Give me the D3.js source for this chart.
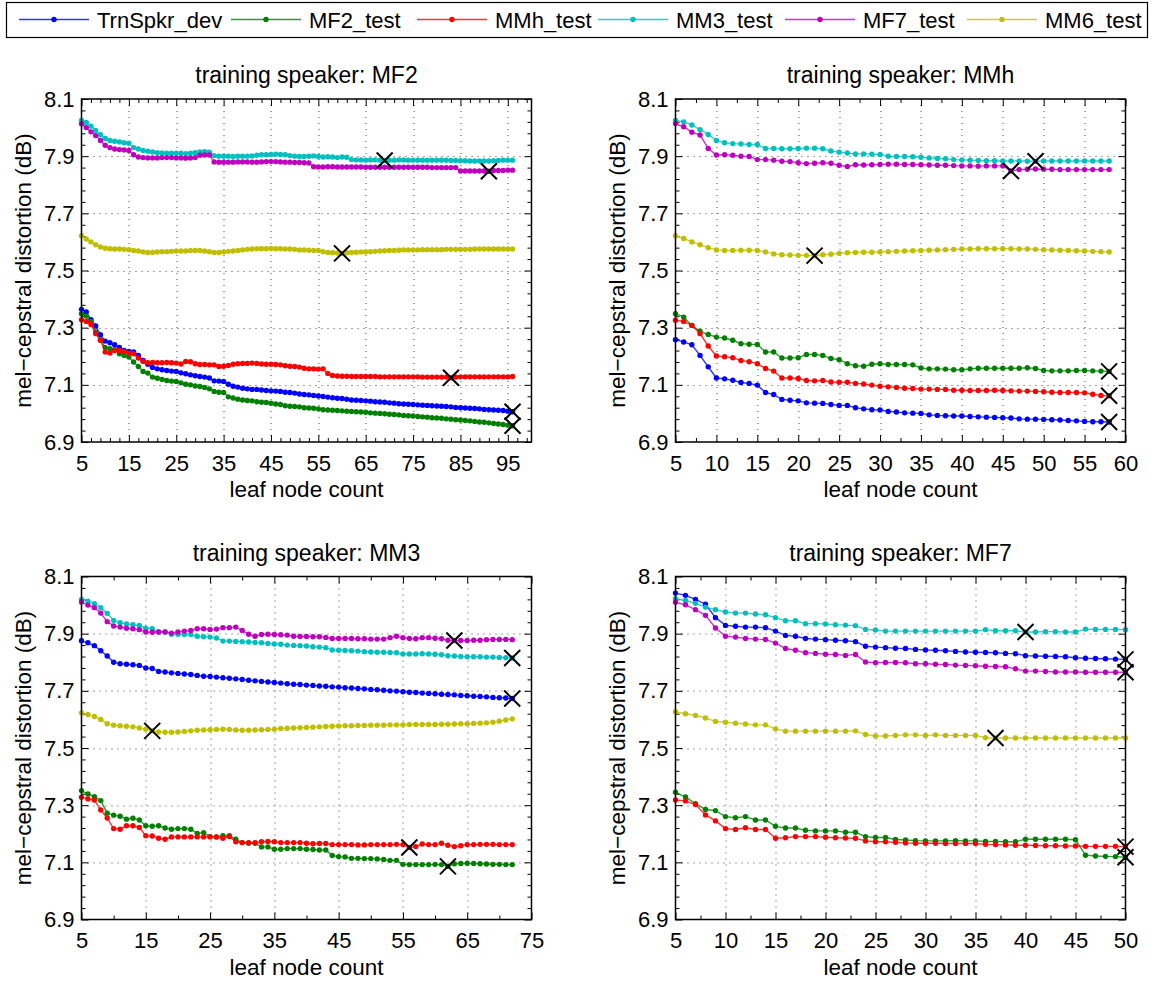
<!DOCTYPE html>
<html>
<head>
<meta charset="utf-8">
<script src="https://cdn.jsdelivr.net/npm/d3@7"></script>
<style>
  body { margin: 0; background: #fff; }
  svg text { font-family: "Liberation Sans", Arial, Helvetica, sans-serif; fill: #000; }
</style>
</head>
<body>
<div id="viz"></div>
<script>
const width = 1151;
const height = 985;

const seriesNames = ['TrnSpkr_dev', 'MF2_test', 'MMh_test', 'MM3_test', 'MF7_test', 'MM6_test'];
const seriesColors = ['#0000ff', '#008000', '#ff0000', '#00bfbf', '#bf00bf', '#bfbf00'];
const yTickValues = [6.9, 7.1, 7.3, 7.5, 7.7, 7.9, 8.1];
const firstLeafCount = 5;

// ---- training speaker MF2 (leaf node count 5..96)
const mf2XTicks = [5, 15, 25, 35, 45, 55, 65, 75, 85, 95];
const mf2Dev = [7.364, 7.355, 7.328, 7.306, 7.275, 7.253, 7.247, 7.240, 7.231, 7.220,
  7.217, 7.215, 7.203, 7.185, 7.172, 7.161, 7.156, 7.153, 7.150, 7.148,
  7.147, 7.142, 7.139, 7.135, 7.132, 7.129, 7.127, 7.124, 7.114, 7.113,
  7.112, 7.102, 7.095, 7.092, 7.088, 7.086, 7.084, 7.084, 7.082, 7.080,
  7.079, 7.078, 7.077, 7.074, 7.073, 7.071, 7.068, 7.066, 7.065, 7.063,
  7.061, 7.059, 7.057, 7.055, 7.053, 7.052, 7.050, 7.047, 7.046, 7.045,
  7.044, 7.043, 7.041, 7.040, 7.039, 7.037, 7.036, 7.034, 7.033, 7.032,
  7.031, 7.030, 7.029, 7.028, 7.027, 7.026, 7.025, 7.024, 7.023, 7.021,
  7.020, 7.019, 7.018, 7.017, 7.016, 7.014, 7.013, 7.012, 7.011, 7.010,
  7.008, 7.006];
const mf2MF2 = [7.349, 7.341, 7.322, 7.285, 7.256, 7.231, 7.226, 7.223, 7.209, 7.203,
  7.197, 7.180, 7.164, 7.147, 7.141, 7.127, 7.123, 7.119, 7.115, 7.113,
  7.112, 7.107, 7.102, 7.100, 7.096, 7.094, 7.091, 7.086, 7.077, 7.074,
  7.073, 7.058, 7.054, 7.050, 7.047, 7.045, 7.044, 7.041, 7.039, 7.038,
  7.036, 7.033, 7.031, 7.027, 7.025, 7.024, 7.023, 7.020, 7.019, 7.018,
  7.016, 7.013, 7.012, 7.011, 7.010, 7.009, 7.008, 7.007, 7.006, 7.005,
  7.004, 7.002, 7.001, 7.000, 6.999, 6.997, 6.996, 6.995, 6.993, 6.992,
  6.991, 6.989, 6.988, 6.987, 6.985, 6.984, 6.983, 6.981, 6.980, 6.978,
  6.977, 6.975, 6.974, 6.972, 6.970, 6.969, 6.967, 6.965, 6.963, 6.961,
  6.959, 6.957];
const mf2MMh = [7.328, 7.322, 7.311, 7.279, 7.256, 7.215, 7.211, 7.220, 7.220, 7.217,
  7.211, 7.209, 7.194, 7.182, 7.177, 7.178, 7.177, 7.177, 7.178, 7.177,
  7.176, 7.173, 7.182, 7.181, 7.174, 7.171, 7.171, 7.170, 7.170, 7.164,
  7.165, 7.168, 7.172, 7.174, 7.175, 7.175, 7.176, 7.175, 7.173, 7.172,
  7.172, 7.171, 7.170, 7.167, 7.165, 7.164, 7.162, 7.158, 7.156, 7.156,
  7.155, 7.156, 7.140, 7.133, 7.131, 7.130, 7.130, 7.129, 7.129, 7.129,
  7.129, 7.129, 7.129, 7.128, 7.128, 7.128, 7.128, 7.128, 7.128, 7.128,
  7.128, 7.128, 7.127, 7.127, 7.127, 7.127, 7.127, 7.127, 7.125, 7.127,
  7.128, 7.128, 7.128, 7.128, 7.128, 7.128, 7.128, 7.128, 7.128, 7.128,
  7.128, 7.129];
const mf2MM3 = [8.025, 8.018, 8.005, 7.990, 7.975, 7.962, 7.955, 7.952, 7.950, 7.947,
  7.945, 7.930, 7.925, 7.920, 7.917, 7.915, 7.912, 7.911, 7.910, 7.910,
  7.910, 7.910, 7.909, 7.910, 7.912, 7.915, 7.916, 7.914, 7.902, 7.900,
  7.900, 7.900, 7.899, 7.900, 7.900, 7.900, 7.901, 7.903, 7.905, 7.905,
  7.906, 7.907, 7.906, 7.905, 7.902, 7.900, 7.899, 7.899, 7.900, 7.901,
  7.899, 7.897, 7.898, 7.897, 7.895, 7.897, 7.896, 7.888, 7.887, 7.887,
  7.886, 7.887, 7.887, 7.886, 7.885, 7.886, 7.886, 7.887, 7.887, 7.886,
  7.886, 7.886, 7.886, 7.886, 7.886, 7.886, 7.886, 7.886, 7.885, 7.885,
  7.884, 7.884, 7.883, 7.883, 7.883, 7.883, 7.883, 7.884, 7.885, 7.886,
  7.886, 7.886];
const mf2MF7 = [8.013, 8.000, 7.985, 7.972, 7.955, 7.938, 7.930, 7.925, 7.923, 7.922,
  7.920, 7.905, 7.897, 7.895, 7.894, 7.894, 7.894, 7.895, 7.895, 7.895,
  7.894, 7.894, 7.893, 7.894, 7.895, 7.903, 7.904, 7.904, 7.880, 7.879,
  7.879, 7.879, 7.879, 7.880, 7.880, 7.880, 7.879, 7.879, 7.880, 7.881,
  7.881, 7.881, 7.880, 7.879, 7.879, 7.878, 7.878, 7.877, 7.876, 7.863,
  7.862, 7.862, 7.863, 7.863, 7.862, 7.862, 7.862, 7.862, 7.862, 7.862,
  7.861, 7.861, 7.861, 7.861, 7.861, 7.861, 7.861, 7.861, 7.861, 7.861,
  7.861, 7.861, 7.861, 7.861, 7.860, 7.860, 7.860, 7.860, 7.860, 7.860,
  7.848, 7.848, 7.848, 7.848, 7.848, 7.848, 7.847, 7.850, 7.850, 7.850,
  7.851, 7.851];
const mf2MM6 = [7.622, 7.610, 7.600, 7.590, 7.582, 7.578, 7.576, 7.575, 7.575, 7.574,
  7.573, 7.570, 7.568, 7.565, 7.563, 7.563, 7.565, 7.566, 7.566, 7.567,
  7.568, 7.568, 7.568, 7.570, 7.570, 7.570, 7.568, 7.566, 7.563, 7.563,
  7.565, 7.567, 7.568, 7.570, 7.572, 7.574, 7.575, 7.576, 7.576, 7.576,
  7.577, 7.576, 7.576, 7.575, 7.575, 7.574, 7.572, 7.572, 7.571, 7.570,
  7.570, 7.566, 7.563, 7.562, 7.561, 7.560, 7.562, 7.563, 7.564, 7.565,
  7.565, 7.566, 7.567, 7.568, 7.569, 7.570, 7.570, 7.571, 7.572, 7.572,
  7.572, 7.572, 7.573, 7.573, 7.573, 7.573, 7.573, 7.574, 7.574, 7.574,
  7.574, 7.574, 7.574, 7.575, 7.575, 7.575, 7.575, 7.575, 7.575, 7.575,
  7.575, 7.575];
const mf2Picks = [96, 96, 83, 69, 91, 60];

// ---- training speaker MMh (leaf node count 5..58)
const mmhXTicks = [5, 10, 15, 20, 25, 30, 35, 40, 45, 50, 55, 60];
const mmhDev = [7.258, 7.250, 7.240, 7.203, 7.163, 7.124, 7.121, 7.116, 7.108, 7.105,
  7.099, 7.073, 7.066, 7.049, 7.046, 7.044, 7.037, 7.036, 7.035, 7.031,
  7.028, 7.028, 7.020, 7.016, 7.013, 7.012, 7.007, 7.005, 7.002, 7.001,
  7.000, 6.995, 6.993, 6.992, 6.991, 6.991, 6.989, 6.988, 6.987, 6.986,
  6.985, 6.984, 6.981, 6.980, 6.980, 6.979, 6.978, 6.977, 6.975, 6.974,
  6.972, 6.971, 6.971, 6.970];
const mmhMF2 = [7.349, 7.337, 7.308, 7.288, 7.276, 7.267, 7.264, 7.256, 7.244, 7.242,
  7.241, 7.215, 7.215, 7.194, 7.194, 7.195, 7.206, 7.206, 7.203, 7.192,
  7.188, 7.174, 7.167, 7.165, 7.172, 7.174, 7.171, 7.171, 7.171, 7.170,
  7.159, 7.156, 7.156, 7.155, 7.153, 7.153, 7.156, 7.158, 7.158, 7.158,
  7.158, 7.158, 7.158, 7.160, 7.157, 7.150, 7.149, 7.149, 7.149, 7.150,
  7.150, 7.149, 7.148, 7.147];
const mmhMMh = [7.326, 7.322, 7.308, 7.279, 7.236, 7.201, 7.198, 7.195, 7.185, 7.181,
  7.174, 7.157, 7.148, 7.124, 7.124, 7.122, 7.115, 7.114, 7.115, 7.110,
  7.109, 7.109, 7.105, 7.103, 7.099, 7.095, 7.093, 7.091, 7.088, 7.087,
  7.085, 7.085, 7.084, 7.084, 7.081, 7.081, 7.080, 7.080, 7.080, 7.081,
  7.080, 7.079, 7.078, 7.078, 7.077, 7.076, 7.074, 7.073, 7.073, 7.073,
  7.072, 7.067, 7.063, 7.062];
const mmhMM3 = [8.025, 8.020, 8.009, 7.993, 7.976, 7.955, 7.947, 7.944, 7.943, 7.941,
  7.941, 7.927, 7.927, 7.926, 7.926, 7.927, 7.928, 7.928, 7.926, 7.918,
  7.914, 7.911, 7.908, 7.908, 7.907, 7.906, 7.900, 7.899, 7.899, 7.898,
  7.896, 7.894, 7.892, 7.891, 7.888, 7.887, 7.886, 7.885, 7.884, 7.884,
  7.883, 7.883, 7.883, 7.882, 7.882, 7.883, 7.883, 7.883, 7.883, 7.883,
  7.883, 7.883, 7.883, 7.883];
const mmhMF7 = [8.014, 8.003, 7.984, 7.974, 7.927, 7.904, 7.905, 7.903, 7.900, 7.899,
  7.888, 7.888, 7.886, 7.882, 7.881, 7.877, 7.874, 7.875, 7.877, 7.875,
  7.868, 7.864, 7.870, 7.869, 7.870, 7.871, 7.872, 7.872, 7.871, 7.871,
  7.870, 7.869, 7.868, 7.868, 7.867, 7.866, 7.866, 7.865, 7.866, 7.866,
  7.866, 7.848, 7.853, 7.854, 7.855, 7.854, 7.854, 7.853, 7.853, 7.853,
  7.853, 7.853, 7.853, 7.853];
const mmhMM6 = [7.622, 7.612, 7.600, 7.590, 7.580, 7.572, 7.570, 7.570, 7.571, 7.571,
  7.570, 7.565, 7.558, 7.555, 7.554, 7.553, 7.553, 7.552, 7.555, 7.557,
  7.560, 7.562, 7.563, 7.564, 7.564, 7.565, 7.566, 7.567, 7.568, 7.569,
  7.570, 7.571, 7.572, 7.573, 7.574, 7.575, 7.575, 7.576, 7.576, 7.576,
  7.576, 7.576, 7.575, 7.575, 7.574, 7.573, 7.572, 7.571, 7.570, 7.569,
  7.568, 7.567, 7.566, 7.565];
const mmhPicks = [58, 58, 58, 49, 46, 22];

// ---- training speaker MM3 (leaf node count 5..72)
const mm3XTicks = [5, 15, 25, 35, 45, 55, 65, 75];
const mm3Dev = [7.875, 7.868, 7.858, 7.840, 7.822, 7.800, 7.795, 7.793, 7.791, 7.789,
  7.780, 7.778, 7.768, 7.766, 7.763, 7.761, 7.759, 7.757, 7.754, 7.751,
  7.750, 7.748, 7.746, 7.744, 7.742, 7.740, 7.737, 7.735, 7.733, 7.731,
  7.729, 7.727, 7.725, 7.723, 7.722, 7.720, 7.719, 7.717, 7.716, 7.714,
  7.713, 7.711, 7.710, 7.708, 7.707, 7.705, 7.704, 7.702, 7.700, 7.699,
  7.697, 7.695, 7.694, 7.692, 7.691, 7.690, 7.688, 7.687, 7.686, 7.684,
  7.683, 7.681, 7.680, 7.679, 7.677, 7.676, 7.675, 7.673];
const mm3MF2 = [7.351, 7.339, 7.330, 7.316, 7.272, 7.265, 7.261, 7.251, 7.254, 7.248,
  7.228, 7.226, 7.228, 7.220, 7.216, 7.218, 7.218, 7.216, 7.201, 7.204,
  7.190, 7.189, 7.193, 7.193, 7.181, 7.169, 7.167, 7.167, 7.154, 7.154,
  7.146, 7.146, 7.148, 7.148, 7.148, 7.146, 7.145, 7.143, 7.143, 7.124,
  7.120, 7.119, 7.114, 7.114, 7.113, 7.113, 7.112, 7.110, 7.107, 7.107,
  7.093, 7.092, 7.092, 7.092, 7.092, 7.093, 7.092, 7.086, 7.095, 7.096,
  7.097, 7.096, 7.095, 7.094, 7.093, 7.093, 7.092, 7.092];
const mm3MMh = [7.328, 7.322, 7.318, 7.283, 7.255, 7.218, 7.216, 7.228, 7.228, 7.222,
  7.193, 7.192, 7.184, 7.181, 7.189, 7.189, 7.189, 7.189, 7.189, 7.189,
  7.189, 7.189, 7.184, 7.190, 7.172, 7.169, 7.169, 7.169, 7.172, 7.173,
  7.172, 7.169, 7.169, 7.169, 7.169, 7.167, 7.165, 7.166, 7.166, 7.162,
  7.162, 7.162, 7.162, 7.161, 7.161, 7.162, 7.162, 7.162, 7.162, 7.163,
  7.162, 7.152, 7.155, 7.164, 7.162, 7.162, 7.167, 7.160, 7.155, 7.158,
  7.162, 7.162, 7.163, 7.163, 7.163, 7.162, 7.162, 7.162];
const mm3MM3 = [8.020, 8.014, 8.005, 7.991, 7.971, 7.946, 7.938, 7.934, 7.931, 7.929,
  7.919, 7.917, 7.906, 7.906, 7.898, 7.898, 7.897, 7.897, 7.891, 7.889,
  7.888, 7.885, 7.874, 7.874, 7.873, 7.872, 7.871, 7.869, 7.868, 7.866,
  7.864, 7.863, 7.860, 7.859, 7.858, 7.857, 7.854, 7.853, 7.851, 7.843,
  7.842, 7.841, 7.840, 7.839, 7.837, 7.836, 7.835, 7.835, 7.834, 7.833,
  7.829, 7.829, 7.829, 7.830, 7.829, 7.828, 7.826, 7.823, 7.822, 7.820,
  7.819, 7.819, 7.819, 7.818, 7.818, 7.817, 7.816, 7.815];
const mm3MF7 = [8.011, 8.000, 7.991, 7.972, 7.942, 7.927, 7.923, 7.919, 7.917, 7.914,
  7.906, 7.905, 7.906, 7.906, 7.902, 7.906, 7.909, 7.911, 7.917, 7.917,
  7.915, 7.916, 7.921, 7.921, 7.923, 7.911, 7.898, 7.891, 7.897, 7.898,
  7.897, 7.896, 7.895, 7.891, 7.890, 7.890, 7.889, 7.889, 7.887, 7.883,
  7.883, 7.883, 7.883, 7.882, 7.882, 7.881, 7.881, 7.881, 7.886, 7.891,
  7.886, 7.883, 7.882, 7.886, 7.886, 7.884, 7.882, 7.877, 7.876, 7.876,
  7.876, 7.877, 7.877, 7.879, 7.880, 7.880, 7.880, 7.879];
const mm3MM6 = [7.623, 7.617, 7.610, 7.600, 7.585, 7.580, 7.578, 7.576, 7.574, 7.570,
  7.566, 7.560, 7.556, 7.555, 7.555, 7.556, 7.558, 7.560, 7.562, 7.563,
  7.564, 7.565, 7.566, 7.565, 7.563, 7.562, 7.562, 7.563, 7.564, 7.565,
  7.566, 7.568, 7.569, 7.570, 7.571, 7.572, 7.573, 7.574, 7.575, 7.576,
  7.577, 7.578, 7.578, 7.579, 7.579, 7.580, 7.580, 7.580, 7.581, 7.581,
  7.581, 7.582, 7.582, 7.582, 7.582, 7.582, 7.583, 7.583, 7.584, 7.585,
  7.585, 7.586, 7.587, 7.588, 7.590, 7.594, 7.598, 7.602];
const mm3Picks = [72, 62, 56, 72, 63, 16];

// ---- training speaker MF7 (leaf node count 5..50)
const mf7XTicks = [5, 10, 15, 20, 25, 30, 35, 40, 45, 50];
const mf7Dev = [8.042, 8.034, 8.020, 8.003, 7.956, 7.929, 7.926, 7.923, 7.923, 7.921,
  7.909, 7.894, 7.891, 7.883, 7.881, 7.879, 7.877, 7.875, 7.872, 7.856,
  7.853, 7.851, 7.849, 7.848, 7.845, 7.843, 7.842, 7.840, 7.838, 7.836,
  7.835, 7.834, 7.833, 7.831, 7.830, 7.823, 7.822, 7.821, 7.820, 7.819,
  7.816, 7.814, 7.813, 7.812, 7.811, 7.810];
const mf7MF2 = [7.345, 7.329, 7.305, 7.285, 7.281, 7.260, 7.256, 7.260, 7.248, 7.248,
  7.226, 7.220, 7.220, 7.212, 7.210, 7.210, 7.210, 7.205, 7.205, 7.190,
  7.187, 7.187, 7.180, 7.178, 7.176, 7.175, 7.175, 7.175, 7.176, 7.175,
  7.175, 7.173, 7.173, 7.172, 7.172, 7.181, 7.181, 7.181, 7.181, 7.181,
  7.179, 7.125, 7.122, 7.121, 7.120, 7.118];
const mf7MMh = [7.318, 7.315, 7.302, 7.266, 7.245, 7.218, 7.215, 7.221, 7.215, 7.215,
  7.184, 7.186, 7.190, 7.190, 7.190, 7.188, 7.186, 7.185, 7.184, 7.175,
  7.172, 7.172, 7.170, 7.168, 7.167, 7.167, 7.167, 7.166, 7.166, 7.166,
  7.166, 7.163, 7.162, 7.161, 7.160, 7.160, 7.159, 7.158, 7.158, 7.157,
  7.157, 7.156, 7.156, 7.156, 7.156, 7.155];
const mf7MM3 = [8.022, 8.016, 8.006, 7.993, 7.984, 7.976, 7.972, 7.972, 7.969, 7.966,
  7.956, 7.945, 7.945, 7.935, 7.935, 7.934, 7.931, 7.930, 7.928, 7.915,
  7.913, 7.909, 7.909, 7.909, 7.909, 7.909, 7.909, 7.909, 7.909, 7.909,
  7.909, 7.914, 7.910, 7.910, 7.910, 7.906, 7.906, 7.907, 7.907, 7.906,
  7.906, 7.916, 7.915, 7.915, 7.915, 7.914];
const mf7MF7 = [8.010, 8.001, 7.984, 7.964, 7.920, 7.891, 7.888, 7.883, 7.881, 7.880,
  7.867, 7.848, 7.842, 7.833, 7.831, 7.828, 7.827, 7.824, 7.827, 7.801,
  7.798, 7.799, 7.799, 7.798, 7.795, 7.795, 7.793, 7.792, 7.790, 7.789,
  7.788, 7.786, 7.785, 7.784, 7.777, 7.769, 7.769, 7.768, 7.766, 7.766,
  7.766, 7.765, 7.765, 7.765, 7.765, 7.765];
const mf7MM6 = [7.627, 7.620, 7.614, 7.605, 7.593, 7.590, 7.587, 7.584, 7.581, 7.581,
  7.567, 7.559, 7.559, 7.559, 7.559, 7.559, 7.559, 7.559, 7.560, 7.547,
  7.542, 7.542, 7.544, 7.546, 7.546, 7.544, 7.546, 7.544, 7.544, 7.544,
  7.544, 7.536, 7.535, 7.535, 7.535, 7.535, 7.535, 7.535, 7.535, 7.535,
  7.535, 7.535, 7.535, 7.535, 7.535, 7.535];
const mf7Picks = [50, 50, 50, 40, 50, 37];

const panels = [
  {title: 'training speaker: MF2', xDomain: [5, 100], xTicks: mf2XTicks, minorStep: 2,
   series: [mf2Dev, mf2MF2, mf2MMh, mf2MM3, mf2MF7, mf2MM6], picks: mf2Picks},
  {title: 'training speaker: MMh', xDomain: [5, 60], xTicks: mmhXTicks, minorStep: 2.5,
   series: [mmhDev, mmhMF2, mmhMMh, mmhMM3, mmhMF7, mmhMM6], picks: mmhPicks},
  {title: 'training speaker: MM3', xDomain: [5, 75], xTicks: mm3XTicks, minorStep: 5,
   series: [mm3Dev, mm3MF2, mm3MMh, mm3MM3, mm3MF7, mm3MM6], picks: mm3Picks},
  {title: 'training speaker: MF7', xDomain: [5, 50], xTicks: mf7XTicks, minorStep: 2.5,
   series: [mf7Dev, mf7MF2, mf7MMh, mf7MM3, mf7MF7, mf7MM6], picks: mf7Picks}
];

// Layout of the 2x2 grid (pixels)
const boxW = 450;
const boxH = 343;
const boxOrigins = [[81.5, 99], [675.5, 99], [81.5, 576.5], [675.5, 576.5]];
const tickFont = 22;
const labelFont = 22.5;
const titleFont = 23;

const svg = d3.select('#viz')
  .append('svg')
    .attr('width', width)
    .attr('height', height)
    .attr('viewBox', [0, 0, width, height]);

svg.append('rect').attr('width', width).attr('height', height).attr('fill', '#fff');

const yScale = d3.scaleLinear().domain([6.9, 8.1]).range([boxH, 0]);
const yMinor = d3.range(0, 31).filter(i => i % 5 !== 0).map(i => 6.9 + i * 0.04);

panels.forEach((p, pi) => {
  const [ox, oy] = boxOrigins[pi];
  const g = svg.append('g').attr('transform', `translate(${ox},${oy})`);

  const xScale = d3.scaleLinear().domain(p.xDomain).range([0, boxW]);
  const xMinor = d3.range(p.xDomain[0], p.xDomain[1] + 1e-9, p.minorStep)
    .filter(v => !p.xTicks.some(t => Math.abs(t - v) < 1e-6));

  // dotted grid at the major ticks
  const grid = g.append('g').attr('stroke', '#000').attr('stroke-width', 1)
    .attr('stroke-dasharray', '1,5').attr('opacity', 0.7);
  grid.selectAll('.vg')
    .data(p.xTicks.filter(t => t > p.xDomain[0] && t < p.xDomain[1]))
    .join('line')
      .attr('x1', d => Math.round(xScale(d)) + 0.5).attr('x2', d => Math.round(xScale(d)) + 0.5)
      .attr('y1', 0).attr('y2', boxH);
  grid.selectAll('.hg')
    .data(yTickValues.filter(t => t > 6.9 && t < 8.1))
    .join('line')
      .attr('y1', d => Math.round(yScale(d)) + 0.5).attr('y2', d => Math.round(yScale(d)) + 0.5)
      .attr('x1', 0).attr('x2', boxW);

  // axes: major ticks point inward, minor ticks shorter
  const xAxis = g.append('g')
    .attr('transform', `translate(0,${boxH})`)
    .call(d3.axisBottom(xScale).tickValues(p.xTicks).tickSize(-7).tickPadding(13).tickFormat(d3.format('d')));
  const xAxisTop = g.append('g')
    .call(d3.axisTop(xScale).tickValues(p.xTicks).tickSize(-7).tickFormat(''));
  const xMinorBottom = g.append('g').attr('transform', `translate(0,${boxH})`)
    .call(d3.axisBottom(xScale).tickValues(xMinor).tickSize(-4).tickFormat(''));
  const xMinorTop = g.append('g')
    .call(d3.axisTop(xScale).tickValues(xMinor).tickSize(-4).tickFormat(''));

  const yAxis = g.append('g')
    .call(d3.axisLeft(yScale).tickValues(yTickValues).tickSize(-7).tickPadding(7).tickFormat(d3.format('.1f')));
  const yAxisRight = g.append('g').attr('transform', `translate(${boxW},0)`)
    .call(d3.axisRight(yScale).tickValues(yTickValues).tickSize(-7).tickFormat(''));
  const yMinorLeft = g.append('g')
    .call(d3.axisLeft(yScale).tickValues(yMinor).tickSize(-4).tickFormat(''));
  const yMinorRight = g.append('g').attr('transform', `translate(${boxW},0)`)
    .call(d3.axisRight(yScale).tickValues(yMinor).tickSize(-4).tickFormat(''));

  [xAxis, xAxisTop, xMinorBottom, xMinorTop, yAxis, yAxisRight, yMinorLeft, yMinorRight].forEach(a => {
    a.select('.domain').remove();
    a.selectAll('line').attr('stroke', '#000').attr('stroke-width', 1);
    a.selectAll('text').style('font-size', tickFont + 'px').attr('fill', '#000');
  });

  // series lines with dot markers
  p.series.forEach((vals, si) => {
    const pts = vals.map((v, i) => [firstLeafCount + i, v]);
    const line = d3.line().x(d => xScale(d[0])).y(d => yScale(d[1]));
    const sg = g.append('g').attr('class', 'series');
    sg.append('path')
      .attr('d', line(pts))
      .attr('fill', 'none')
      .attr('stroke', seriesColors[si])
      .attr('stroke-width', 1.4)
      .attr('stroke-opacity', 0.8);
    sg.selectAll('circle')
      .data(pts)
      .join('circle')
        .attr('cx', d => xScale(d[0]))
        .attr('cy', d => yScale(d[1]))
        .attr('r', 2.7)
        .attr('fill', seriesColors[si]);
  });

  // black cross at the picked leaf count of each series
  const cross = 8;
  const picks = p.picks.map((x, si) => [x, p.series[si][x - firstLeafCount]]);
  const pg = g.append('g').attr('stroke', '#000').attr('stroke-width', 2);
  picks.forEach(d => {
    const cx = xScale(d[0]), cy = yScale(d[1]);
    pg.append('line').attr('x1', cx - cross).attr('y1', cy - cross).attr('x2', cx + cross).attr('y2', cy + cross);
    pg.append('line').attr('x1', cx - cross).attr('y1', cy + cross).attr('x2', cx + cross).attr('y2', cy - cross);
  });

  // frame
  g.append('rect')
    .attr('width', boxW).attr('height', boxH)
    .attr('fill', 'none').attr('stroke', '#000').attr('stroke-width', 1.5);

  // title and axis labels
  g.append('text')
    .attr('x', boxW / 2).attr('y', -16)
    .attr('text-anchor', 'middle')
    .style('font-size', titleFont + 'px')
    .text(p.title);
  g.append('text')
    .attr('x', boxW / 2).attr('y', boxH + 55)
    .attr('text-anchor', 'middle')
    .style('font-size', labelFont + 'px')
    .text('leaf node count');
  g.append('text')
    .attr('transform', `translate(-51,${boxH / 2}) rotate(-90)`)
    .attr('text-anchor', 'middle')
    .style('font-size', labelFont + 'px')
    .text('mel\u2212cepstral distortion (dB)');
});

// Legend across the top
const legendLineX = [19, 231, 417, 598, 785, 967];
const legend = svg.append('g');
legend.append('rect')
  .attr('x', 6.5).attr('y', 2.5).attr('width', 1141).attr('height', 35)
  .attr('fill', '#fff').attr('stroke', '#000').attr('stroke-width', 1.2);
seriesNames.forEach((name, i) => {
  const lx = legendLineX[i];
  legend.append('line')
    .attr('x1', lx).attr('x2', lx + 70).attr('y1', 19.5).attr('y2', 19.5)
    .attr('stroke', seriesColors[i]).attr('stroke-width', 1.4).attr('stroke-opacity', 0.8);
  legend.append('circle')
    .attr('cx', lx + 35).attr('cy', 19.5).attr('r', 2.7).attr('fill', seriesColors[i]);
  legend.append('text')
    .attr('x', lx + 78).attr('y', 27.5)
    .style('font-size', '22px')
    .text(name);
});
</script>
</body>
</html>
